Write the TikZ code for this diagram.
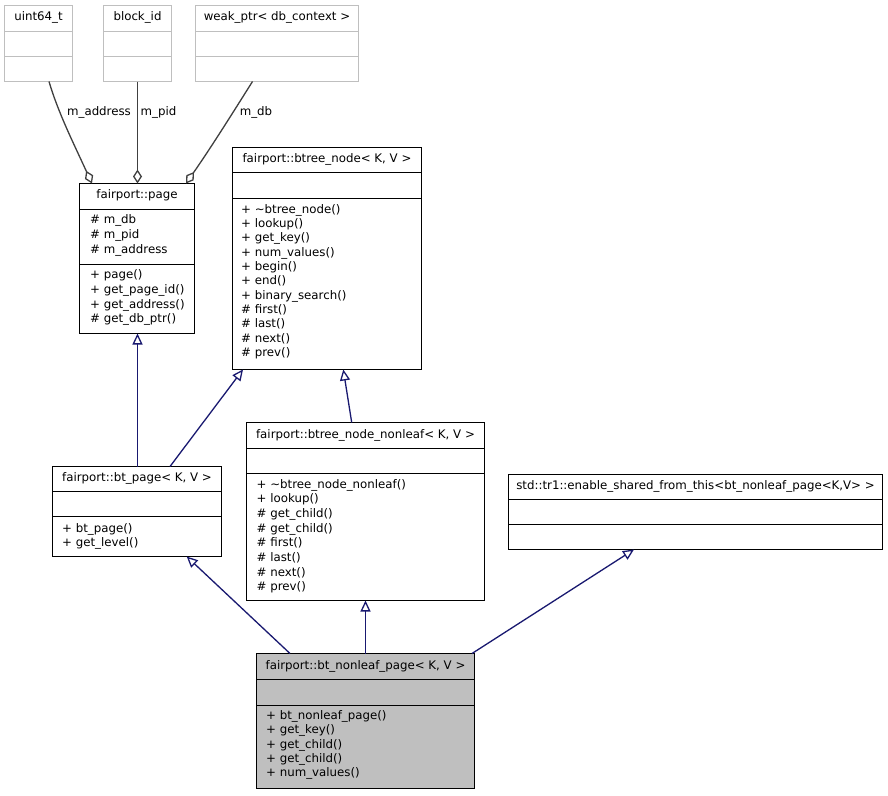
\documentclass[tikz,border=0pt]{standalone}
\usepackage{fontspec}
\setmainfont{DejaVu Sans}
\usetikzlibrary{arrows.meta}
\definecolor{inhc}{HTML}{191970}
\definecolor{aggc}{HTML}{404040}
\definecolor{gbord}{HTML}{BFBFBF}
\definecolor{gfill}{HTML}{BFBFBF}
\begin{document}
\begin{tikzpicture}[x=1pt,y=-1pt,
  font=\fontsize{11.8}{14}\selectfont,
  cls/.style={draw=black, line width=1.4pt, inner sep=0pt, outer sep=0pt, anchor=north west, rectangle},
  gcls/.style={cls, draw=gbord},
  hcls/.style={cls, fill=gfill},
  divl/.style={line width=1.4pt, black},
  gdivl/.style={line width=1.4pt, gbord},
  ttl/.style={inner sep=0pt, anchor=mid},
  mem/.style={inner sep=0pt, anchor=mid west},
  inh/.style={draw=inhc, line width=1.3pt, -{Triangle[open, length=11pt, width=10pt, fill=white]}},
  agg/.style={draw=aggc, line width=1.3pt, -{Diamond[open, length=14pt, width=9pt, fill=white]}},
  lbl/.style={inner sep=0pt, anchor=mid}
]
\useasboundingbox[fill=white] (0,0) rectangle (888,795);

% ---- gray top classes
\node[gcls, minimum width=68pt, minimum height=76pt] (uint) at (4.5,5.5) {};
\draw[gdivl] (uint.west |- 0,31.5) -- (uint.east |- 0,31.5);
\draw[gdivl] (uint.west |- 0,56.5) -- (uint.east |- 0,56.5);
\node[ttl] (uintT) at (38.5,18) {uint64\_t};

\node[gcls, minimum width=68pt, minimum height=76pt] (blk) at (103.5,5.5) {};
\draw[gdivl] (blk.west |- 0,31.5) -- (blk.east |- 0,31.5);
\draw[gdivl] (blk.west |- 0,56.5) -- (blk.east |- 0,56.5);
\node[ttl] (blkT) at (137.5,18) {block\_id};

\node[gcls, minimum width=163pt, minimum height=76pt] (weak) at (195.5,5.5) {};
\draw[gdivl] (weak.west |- 0,31.5) -- (weak.east |- 0,31.5);
\draw[gdivl] (weak.west |- 0,56.5) -- (weak.east |- 0,56.5);
\node[ttl] (weakT) at (277,18) {weak\_ptr< db\_context >};

% ---- fairport::page
\node[cls, minimum width=115pt, minimum height=150pt] (page) at (79.5,183.5) {};
\draw[divl] (page.west |- 0,209.5) -- (page.east |- 0,209.5);
\draw[divl] (page.west |- 0,264.5) -- (page.east |- 0,264.5);
\node[ttl] (pageT) at (137,196) {fairport::page};
\node[mem] (pa1) at (90,220.7) {\# m\_db};
\node[mem] (pa2) at (90,235.5) {\# m\_pid};
\node[mem] (pa3) at (90,250.3) {\# m\_address};
\node[mem] (pm1) at (90,276) {+ page()};
\node[mem] (pm2) at (90,290.7) {+ get\_page\_id()};
\node[mem] (pm3) at (90,305.3) {+ get\_address()};
\node[mem] (pm4) at (90,320) {\# get\_db\_ptr()};

% ---- fairport::btree_node
\node[cls, minimum width=189pt, minimum height=222pt] (btn) at (232.5,147.5) {};
\draw[divl] (btn.west |- 0,172.5) -- (btn.east |- 0,172.5);
\draw[divl] (btn.west |- 0,198.5) -- (btn.east |- 0,198.5);
\node[ttl] (btnT) at (327,159.5) {fairport::btree\_node< K, V >};
\foreach \t [count=\i from 0] in {+ \textasciitilde btree\_node(), + lookup(), + get\_key(), + num\_values(), + begin(), + end(), + binary\_search(), \# first(), \# last(), \# next(), \# prev()}
  \node[mem] (btnm\i) at (241,210.3+14.35*\i) {\t};

% ---- fairport::bt_page
\node[cls, minimum width=169pt, minimum height=90pt] (btpage) at (52.5,466.5) {};
\draw[divl] (btpage.west |- 0,491.5) -- (btpage.east |- 0,491.5);
\draw[divl] (btpage.west |- 0,516.5) -- (btpage.east |- 0,516.5);
\node[ttl] (btpageT) at (137,479) {fairport::bt\_page< K, V >};
\node[mem] (bpm1) at (62,529.3) {+ bt\_page()};
\node[mem] (bpm2) at (62,544) {+ get\_level()};

% ---- fairport::btree_node_nonleaf
\node[cls, minimum width=238pt, minimum height=178pt] (nonleaf) at (246.5,422.5) {};
\draw[divl] (nonleaf.west |- 0,448.5) -- (nonleaf.east |- 0,448.5);
\draw[divl] (nonleaf.west |- 0,473.5) -- (nonleaf.east |- 0,473.5);
\node[ttl] (nonleafT) at (365.5,435.5) {fairport::btree\_node\_nonleaf< K, V >};
\foreach \t [count=\i from 0] in {+ \textasciitilde btree\_node\_nonleaf(), + lookup(), \# get\_child(), \# get\_child(), \# first(), \# last(), \# next(), \# prev()}
  \node[mem] (nlm\i) at (256.5,485.3+14.7*\i) {\t};

% ---- std::tr1::enable_shared_from_this
\node[cls, minimum width=374pt, minimum height=75pt] (esft) at (508.5,474.5) {};
\draw[divl] (esft.west |- 0,499.5) -- (esft.east |- 0,499.5);
\draw[divl] (esft.west |- 0,524.5) -- (esft.east |- 0,524.5);
\node[ttl] (esftT) at (695.5,487) {std::tr1::enable\_shared\_from\_this<bt\_nonleaf\_page<K,V> >};

% ---- fairport::bt_nonleaf_page (highlighted)
\node[hcls, minimum width=218pt, minimum height=135pt] (bnp) at (256.5,653.5) {};
\draw[divl] (bnp.west |- 0,679.5) -- (bnp.east |- 0,679.5);
\draw[divl] (bnp.west |- 0,705.5) -- (bnp.east |- 0,705.5);
\node[ttl] (bnpT) at (365.5,666.5) {fairport::bt\_nonleaf\_page< K, V >};
\foreach \t [count=\i from 0] in {+ bt\_nonleaf\_page(), + get\_key(), + get\_child(), + get\_child(), + num\_values()}
  \node[mem] (bnpm\i) at (266,716.9+14.3*\i) {\t};

% ---- aggregation connectors
\draw[agg] (49,0 |- uint.south) .. controls (58,112) and (72,140) .. (92,0 |- page.north);
\draw[agg] (137.5,0 |- blk.south) -- (137.5,0 |- page.north);
\draw[agg] (252.5,0 |- weak.south) .. controls (232,114) and (212,146) .. (186,0 |- page.north);
\node[lbl] (lA) at (99,113) {m\_address};
\node[lbl] (lP) at (158.5,113) {m\_pid};
\node[lbl] (lD) at (256,113) {m\_db};

% ---- inheritance connectors
\draw[inh] (137.5,0 |- btpage.north) -- (137.5,0 |- page.south);
\draw[inh] (170,0 |- btpage.north) -- (243,0 |- btn.south);
\draw[inh] (351.7,0 |- nonleaf.north) -- (343.3,0 |- btn.south);
\draw[inh] (290,0 |- bnp.north) -- (186.7,0 |- btpage.south);
\draw[inh] (365.5,0 |- bnp.north) -- (365.5,0 |- nonleaf.south);
\draw[inh] (472,0 |- bnp.north) -- (634,0 |- esft.south);
\end{tikzpicture}
\end{document}
